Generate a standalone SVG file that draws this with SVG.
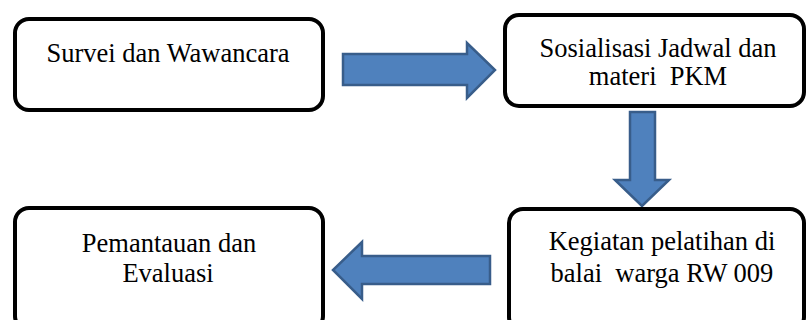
<svg xmlns="http://www.w3.org/2000/svg" width="809" height="320" viewBox="0 0 809 320">
<style>
.box{fill:#fff;stroke:#000;stroke-width:4}
.lbl{font-family:"Liberation Serif","Times New Roman",serif;font-size:26.5px;fill:#000;text-anchor:middle;white-space:pre}
.arr{fill:#4F81BD;stroke:#385D8A;stroke-width:2.5;stroke-linejoin:miter}
</style>
<rect width="809" height="320" fill="#fff"/>
<g id="connectors">
<path class="arr" d="M343,54 H467 V43 L495,70 L467,98 V85 H343 Z"/>
<path class="arr" d="M630,112 H655 V180 H669 L642,206 L615,180 H630 Z"/>
<path class="arr" d="M490,256 V284 H362 V299 L333,270 L362,242 V256 Z"/>
</g>
<g id="node1">
<rect class="box" x="15" y="19" width="308" height="91" rx="14"/>
<text class="lbl" x="168" y="62">Survei dan Wawancara</text>
</g>
<g id="node2">
<rect class="box" x="505" y="15" width="299" height="91" rx="14"/>
<text class="lbl" x="658" y="57">Sosialisasi Jadwal dan</text>
<text class="lbl" x="658" y="85">materi  PKM</text>
</g>
<g id="node3">
<rect class="box" x="15" y="208" width="308" height="122" rx="14"/>
<text class="lbl" x="169" y="252">Pemantauan dan</text>
<text class="lbl" x="168" y="282">Evaluasi</text>
</g>
<g id="node4">
<rect class="box" x="509" y="209" width="295" height="122" rx="14"/>
<text class="lbl" x="662" y="250">Kegiatan pelatihan di</text>
<text class="lbl" x="662" y="282">balai  warga RW 009</text>
</g>
</svg>
